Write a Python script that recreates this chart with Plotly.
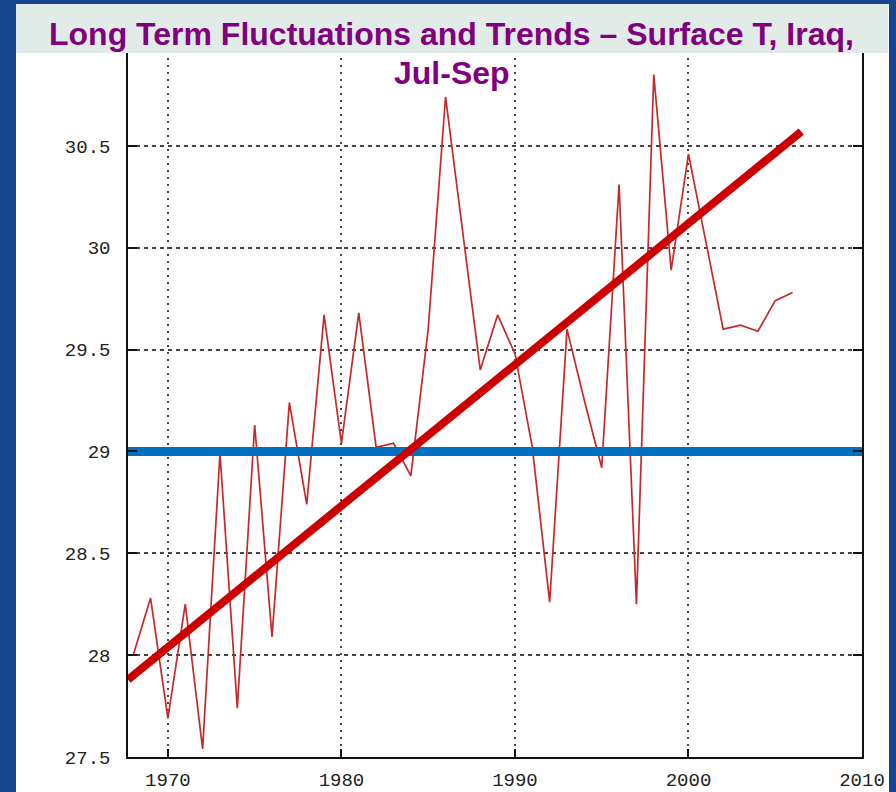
import plotly.graph_objects as go

# ---------------- data ----------------
years = list(range(1968, 2007))
temps = [28.00, 28.28, 27.69, 28.25, 27.54, 28.99, 27.74, 29.13, 28.09, 29.24,
         28.74, 29.67, 29.04, 29.68, 29.02, 29.04, 28.88, 29.60, 30.74, 30.07,
         29.40, 29.67, 29.48, 29.02, 28.26, 29.60, 29.25, 28.92, 30.31, 28.25,
         30.85, 29.89, 30.46, 30.03, 29.60, 29.62, 29.59, 29.74, 29.78]
trend_years = [1967.7, 2006.5]
trend_temps = [27.88, 30.57]
mean_years = [1967.7, 2010.0]
mean_temps = [29.0, 29.0]
x_ticks = [1970, 1980, 1990, 2000, 2010]
x_tick_labels = ["1970", "1980", "1990", "2000", "2010"]
y_ticks = [27.5, 28, 28.5, 29, 29.5, 30, 30.5]
y_tick_labels = ["27.5", "28", "28.5", "29", "29.5", "30", "30.5"]
title_line1 = "Long Term Fluctuations and Trends \u2013 Surface T, Iraq,"
title_line2 = "Jul-Sep"

# ---------------- layout geometry ----------------
W, H = 896, 792
ML, MR, MT, MB = 128, 34, 44, 35
PW, PH = W - ML - MR, H - MT - MB


def px_x(px):
    return (px - ML) / PW


def px_y(py):
    return (H - MB - py) / PH


fig = go.Figure()

fig.add_trace(go.Scatter(
    x=years, y=temps, mode="lines",
    line=dict(color="#c52a2a", width=1.7),
    hoverinfo="skip", showlegend=False))

fig.add_trace(go.Scatter(
    x=mean_years, y=mean_temps, mode="lines",
    line=dict(color="#0070c0", width=9),
    hoverinfo="skip", showlegend=False))

fig.add_trace(go.Scatter(
    x=trend_years, y=trend_temps, mode="lines",
    line=dict(color="#cc0000", width=8),
    hoverinfo="skip", showlegend=False))

mono = dict(family="Liberation Mono, DejaVu Sans Mono, monospace", size=19, color="#222222")

fig.update_xaxes(
    range=[1967.7, 2010], tickvals=x_ticks, ticktext=x_tick_labels,
    showline=True, linecolor="#111111", linewidth=1.5, mirror="ticks",
    ticks="inside", ticklen=8, tickwidth=1.5, tickcolor="#111111",
    showgrid=True, gridcolor="#444444", gridwidth=1.5, griddash="2px,5px",
    zeroline=False, tickfont=mono, ticklabelstandoff=4, automargin=False)

fig.update_yaxes(
    range=[27.5, 31.0], tickvals=y_ticks, ticktext=y_tick_labels,
    showline=True, linecolor="#111111", linewidth=1.5, mirror="ticks",
    ticks="inside", ticklen=9, tickwidth=1.5, tickcolor="#111111",
    showgrid=True, gridcolor="#444444", gridwidth=1.5, griddash="4px,4px",
    zeroline=False, tickfont=mono, ticklabelstandoff=12, automargin=False)

shapes = [
    # white slide panel
    dict(type="rect", xref="paper", yref="paper",
         x0=px_x(16), x1=px_x(889), y0=px_y(800), y1=px_y(4),
         fillcolor="white", line=dict(width=0), layer="below"),
    # title banner
    dict(type="rect", xref="paper", yref="paper",
         x0=px_x(16), x1=px_x(888), y0=px_y(53), y1=px_y(4),
         fillcolor="#e1ece8", line=dict(width=0), layer="above"),
]

title_font = dict(family="Liberation Sans, Arial, sans-serif", size=32, color="#800080")
annotations = [
    dict(text="<b>" + title_line1 + "</b>", xref="paper", yref="paper",
         x=px_x(451), y=px_y(34), xanchor="center", yanchor="middle",
         showarrow=False, font=title_font),
    dict(text="<b>" + title_line2 + "</b>", xref="paper", yref="paper",
         x=px_x(452), y=px_y(73), xanchor="center", yanchor="middle",
         showarrow=False, font=title_font),
]

fig.update_layout(
    width=W, height=H,
    margin=dict(l=ML, r=MR, t=MT, b=MB, pad=0, autoexpand=False),
    paper_bgcolor="#17468f", plot_bgcolor="white",
    shapes=shapes, annotations=annotations, showlegend=False)

fig.write_html("out.html",
               config={"displayModeBar": False},
               post_script="document.body.style.margin='0';document.body.style.overflow='hidden';")
